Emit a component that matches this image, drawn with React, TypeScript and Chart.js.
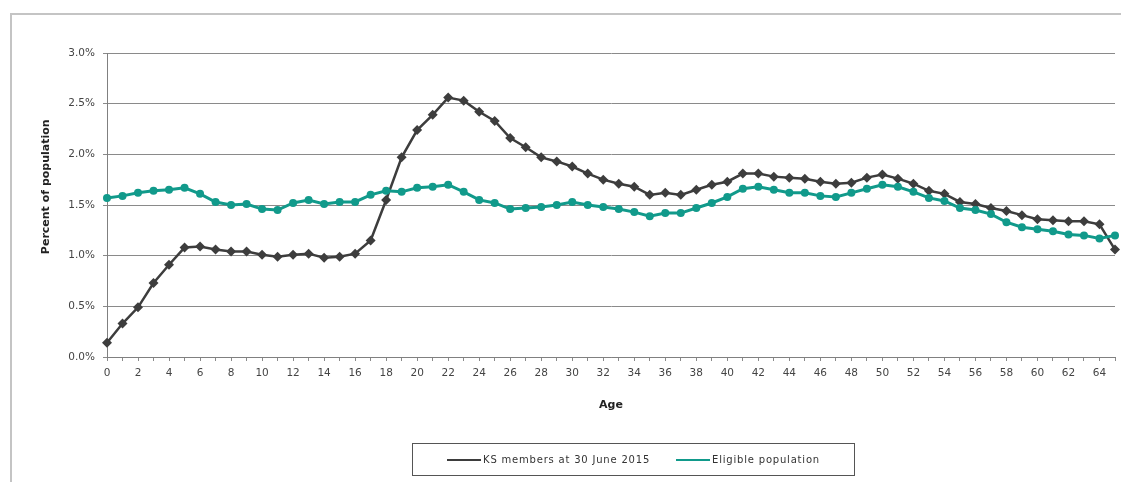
import React, { useEffect, useRef } from "react";
import { Chart, registerables } from "chart.js";

Chart.register(...registerables);

const ages: string[] = Array.from({ length: 66 }, (_, i) => String(i));

const ksMembers: number[] = [
  0.14, 0.33, 0.49, 0.73, 0.91, 1.08, 1.09, 1.06, 1.04, 1.04,
  1.01, 0.99, 1.01, 1.02, 0.98, 0.99, 1.02, 1.15, 1.55, 1.97,
  2.24, 2.39, 2.56, 2.53, 2.42, 2.33, 2.16, 2.07, 1.97, 1.93,
  1.88, 1.81, 1.75, 1.71, 1.68, 1.60, 1.62, 1.60, 1.65, 1.70,
  1.73, 1.81, 1.81, 1.78, 1.77, 1.76, 1.73, 1.71, 1.72, 1.77,
  1.80, 1.76, 1.71, 1.64, 1.61, 1.53, 1.51, 1.47, 1.44, 1.40,
  1.36, 1.35, 1.34, 1.34, 1.31, 1.06,
];

const eligible: number[] = [
  1.57, 1.59, 1.62, 1.64, 1.65, 1.67, 1.61, 1.53, 1.50, 1.51,
  1.46, 1.45, 1.52, 1.55, 1.51, 1.53, 1.53, 1.60, 1.64, 1.63,
  1.67, 1.68, 1.70, 1.63, 1.55, 1.52, 1.46, 1.47, 1.48, 1.50,
  1.53, 1.50, 1.48, 1.46, 1.43, 1.39, 1.42, 1.42, 1.47, 1.52,
  1.58, 1.66, 1.68, 1.65, 1.62, 1.62, 1.59, 1.58, 1.62, 1.66,
  1.70, 1.68, 1.63, 1.57, 1.54, 1.47, 1.45, 1.41, 1.33, 1.28,
  1.26, 1.24, 1.21, 1.20, 1.17, 1.20,
];

const seriesNames: string[] = ["KS members at 30 June 2015", "Eligible population"];
const seriesColors: string[] = ["#3d3d3d", "#119a8b"];

const xTitle = "Age";
const yTitle = "Percent of population";

const FONT = "'DejaVu Sans', 'Liberation Sans', Arial, sans-serif";

export default function App() {
  const canvasRef = useRef<HTMLCanvasElement | null>(null);

  useEffect(() => {
    if (!canvasRef.current) return;
    const titlePlugin = {
      id: "axisTitles",
      afterDraw(chart: any) {
        const ctx = chart.ctx;
        const a = chart.chartArea;
        ctx.save();
        ctx.fillStyle = "#222";
        ctx.font = `bold 11px ${FONT}`;
        ctx.textAlign = "center";
        ctx.textBaseline = "middle";
        ctx.fillText(xTitle, (a.left + a.right) / 2, a.bottom + 48);
        ctx.translate(46, a.top + (a.bottom - a.top) * 0.44);
        ctx.rotate(-Math.PI / 2);
        ctx.fillText(yTitle, 0, 0);
        ctx.restore();
      },
    };

    const chart = new Chart(canvasRef.current, {
      type: "line",
      data: {
        labels: ages,
        datasets: [
          {
            label: seriesNames[0],
            data: ksMembers,
            borderColor: seriesColors[0],
            backgroundColor: seriesColors[0],
            borderWidth: 2.5,
            pointStyle: "rectRot",
            pointRadius: 5,
            pointBorderWidth: 0,
            order: 1,
          },
          {
            label: seriesNames[1],
            data: eligible,
            borderColor: seriesColors[1],
            backgroundColor: seriesColors[1],
            borderWidth: 3,
            pointStyle: "circle",
            pointRadius: 4,
            pointBorderWidth: 0,
            order: 0,
          },
        ],
      },
      options: {
        animation: false,
        responsive: true,
        maintainAspectRatio: false,
        layout: { padding: { left: 0, right: 4, top: 53, bottom: 0 } },
        plugins: {
          legend: { display: false },
          tooltip: { enabled: false },
        },
        scales: {
          x: {
            type: "category",
            offset: false,
            afterFit(scale: any) {
              scale.height = 125;
            },
            grid: {
              drawOnChartArea: false,
              drawTicks: true,
              tickLength: 4,
              color: "#8a8a8a",
            },
            border: { color: "#808080", width: 1 },
            ticks: {
              autoSkip: false,
              maxRotation: 0,
              padding: 6,
              color: "#444",
              font: { family: FONT, size: 10.5 },
              callback: (_v: any, i: number) => (i % 2 === 0 ? ages[i] : ""),
            },
          },
          y: {
            min: 0,
            max: 3,
            afterFit(scale: any) {
              scale.width = 107;
            },
            grid: {
              color: "#8a8a8a",
              lineWidth: 1,
              drawTicks: true,
              tickLength: 4,
            },
            border: { color: "#808080", width: 1 },
            ticks: {
              stepSize: 0.5,
              padding: 8,
              color: "#444",
              font: { family: FONT, size: 10.5 },
              callback: (v: any) => Number(v).toFixed(1) + "%",
            },
          },
        },
      },
      plugins: [titlePlugin],
    });
    return () => chart.destroy();
  }, []);

  return (
    <div
      style={{
        position: "fixed",
        left: 0,
        top: 0,
        width: 1121,
        height: 482,
        background: "#fff",
        overflow: "hidden",
        fontFamily: FONT,
      }}
    >
      <div
        style={{
          position: "absolute",
          left: 10,
          top: 13,
          width: 1200,
          height: 600,
          borderTop: "2px solid #c4c4c4",
          borderLeft: "2px solid #c4c4c4",
        }}
      />
      <div style={{ position: "absolute", left: 0, top: 0, width: 1121, height: 482 }}>
        <canvas ref={canvasRef} />
      </div>
      <div
        style={{
          position: "absolute",
          left: 412,
          top: 443,
          width: 441,
          height: 31,
          border: "1px solid #555",
          display: "flex",
          alignItems: "center",
          justifyContent: "center",
          gap: 26,
          fontSize: 10,
          color: "#333",
        }}
      >
        {seriesNames.map((name, i) => (
          <div key={name} style={{ display: "flex", alignItems: "center" }}>
            <span
              style={{
                display: "inline-block",
                width: 34,
                height: 2,
                background: seriesColors[i],
                marginRight: 2,
              }}
            />
            <span style={{ letterSpacing: 0.8 }}>{name}</span>
          </div>
        ))}
      </div>
    </div>
  );
}
